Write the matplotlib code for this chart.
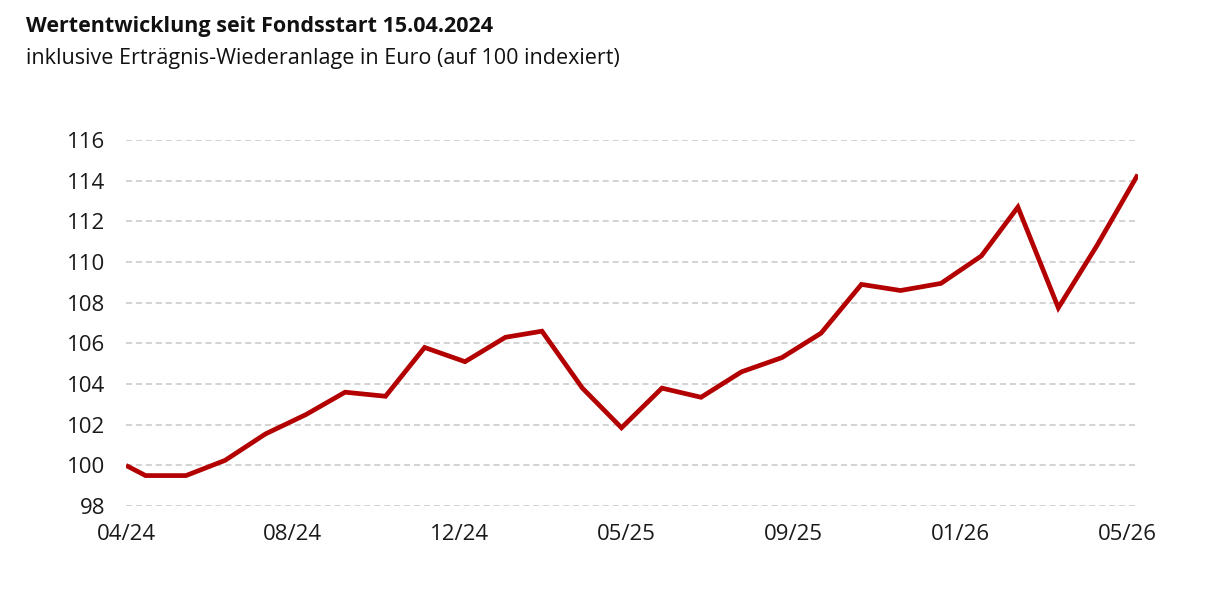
import matplotlib
matplotlib.use("Agg")
import matplotlib.pyplot as plt
import matplotlib.dates as mdates
import pandas as pd

# fund start, then month-end values
dates = [
    "2024-04-15", "2024-04-30", "2024-05-31", "2024-06-30", "2024-07-31",
    "2024-08-31", "2024-09-30", "2024-10-31", "2024-11-30", "2024-12-31",
    "2025-01-31", "2025-02-28", "2025-03-31", "2025-04-30", "2025-05-31",
    "2025-06-30", "2025-07-31", "2025-08-31", "2025-09-30", "2025-10-31",
    "2025-11-30", "2025-12-31", "2026-01-31", "2026-02-28", "2026-03-31",
    "2026-04-30", "2026-05-31",
]
values = [
    100.0, 99.5, 99.5, 100.25, 101.55,
    102.5, 103.6, 103.4, 105.8, 105.1,
    106.3, 106.6, 103.8, 101.85, 103.8,
    103.35, 104.6, 105.3, 106.5, 108.9,
    108.6, 108.95, 110.3, 112.7, 107.75,
    110.85, 114.3,
]
y_ticks = [98, 100, 102, 104, 106, 108, 110, 112, 114, 116]

title = "Wertentwicklung seit Fondsstart 15.04.2024"
subtitle = "inklusive Erträgnis-Wiederanlage in Euro (auf 100 indexiert)"

plt.rcParams["font.family"] = ["Open Sans", "DejaVu Sans"]

x = pd.to_datetime(dates)

fig = plt.figure(figsize=(12.06, 5.94), dpi=100)
ax = fig.add_axes([0.1045, 0.148, 0.839, 0.6163])

ax.plot(x, values, color="#b30000", linewidth=3.4, solid_joinstyle="miter",
        solid_capstyle="butt", zorder=3)

ax.set_xlim(x[0], x[-1])
ax.set_ylim(98, 116)
ax.set_yticks(y_ticks)
ax.set_xticks(pd.date_range(x[0], periods=7, freq="128D"))
ax.xaxis.set_major_formatter(mdates.DateFormatter("%m/%y"))

ax.grid(axis="y", color="#c8c8c8", linestyle=(0, (4, 2.5)), linewidth=1.1)
ax.set_axisbelow(True)
for side in ax.spines.values():
    side.set_visible(False)
ax.tick_params(axis="both", length=0, labelsize=16, colors="#1a1a1a")
ax.tick_params(axis="y", pad=15)
ax.tick_params(axis="x", pad=13)

fig.text(0.0216, 0.955, title, fontsize=15.5, fontweight="bold", va="center",
         color="#111111")
fig.text(0.0216, 0.902, subtitle, fontsize=15.5, va="center", color="#111111")

fig.savefig("out.png", dpi=100)
